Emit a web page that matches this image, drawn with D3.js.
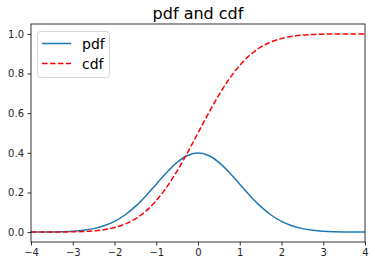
<!DOCTYPE html>
<html><head><meta charset="utf-8">
<script src="https://cdn.jsdelivr.net/npm/d3@7"></script>
<style>body{margin:0;background:#fff}svg{display:block;font-family:"DejaVu Sans",sans-serif}</style>
</head><body><svg id="c" width="375" height="266"></svg>
<script>
const xs = [-4,-3.75,-3.5,-3.25,-3,-2.75,-2.5,-2.25,-2,-1.75,-1.5,-1.25,-1,-0.75,-0.5,-0.25,0,0.25,0.5,0.75,1,1.25,1.5,1.75,2,2.25,2.5,2.75,3,3.25,3.5,3.75,4];
const pdfVals = [0.000134,0.000353,0.000873,0.00203,0.00443,0.00909,0.0175,0.0317,0.054,0.0863,0.1295,0.1826,0.242,0.3011,0.3521,0.3867,0.3989,0.3867,0.3521,0.3011,0.242,0.1826,0.1295,0.0863,0.054,0.0317,0.0175,0.00909,0.00443,0.00203,0.000873,0.000353,0.000134];
const cdfVals = [0.00003,0.00009,0.00023,0.00058,0.00135,0.00298,0.0062,0.0122,0.0228,0.0401,0.0668,0.1056,0.1587,0.2266,0.3085,0.4013,0.5,0.5987,0.6915,0.7734,0.8413,0.8944,0.9332,0.9599,0.9772,0.9878,0.9938,0.997,0.99865,0.99942,0.99977,0.99991,0.99997];
const xTicks = [-4,-3,-2,-1,0,1,2,3,4];
const yTicks = [0,0.2,0.4,0.6,0.8,1.0];
const seriesNames = ["pdf","cdf"];

const svg = d3.select("#c");
const L=31, R=365, T=24, B=242;
const x = d3.scaleLinear().domain([-4,4]).range([L,R]);
const y = d3.scaleLinear().domain([-0.05,1.05]).range([B,T]);

svg.append("text").attr("x",(L+R)/2).attr("y",19).attr("text-anchor","middle")
  .attr("font-size",16).attr("fill","#000").text("pdf and cdf");

const line = d3.line().x((d,i)=>x(xs[i])).y(d=>y(d)).curve(d3.curveCatmullRom);
const g = svg.append("g");
g.append("path").datum(pdfVals).attr("d",line).attr("fill","none").attr("stroke","#1f77b4").attr("stroke-width",1.5);
g.append("path").datum(cdfVals).attr("d",line).attr("fill","none").attr("stroke","#ff0000").attr("stroke-width",1.5).attr("stroke-dasharray","5.55,2.4");

const xa = svg.append("g").attr("transform",`translate(0,${B})`)
  .call(d3.axisBottom(x).tickValues(xTicks).tickSize(3.5).tickPadding(3.5).tickFormat(d=>d<0?"\u2212"+(-d):""+d));
const ya = svg.append("g").attr("transform",`translate(${L},0)`)
  .call(d3.axisLeft(y).tickValues(yTicks).tickSize(3.5).tickPadding(3.5).tickFormat(d3.format(".1f")));
[xa,ya].forEach(a=>{a.select(".domain").remove();a.selectAll("line").attr("stroke","#000").attr("stroke-width",0.8);
  a.selectAll("text").attr("font-size",10).attr("fill","#262626").attr("font-family","DejaVu Sans");});

svg.append("rect").attr("x",L).attr("y",T).attr("width",R-L).attr("height",B-T)
  .attr("fill","none").attr("stroke","#000").attr("stroke-width",0.8);

const lg = svg.append("g");
lg.append("rect").attr("x",37.5).attr("y",31.5).attr("width",72).attr("height",46).attr("rx",3)
  .attr("fill","#fff").attr("fill-opacity",0.8).attr("stroke","#cccccc").attr("stroke-width",0.8);
const colors=["#1f77b4","#ff0000"], dashes=[null,"5.55,2.4"];
seriesNames.forEach((n,i)=>{
  const yy = 43.5 + i*20;
  lg.append("line").attr("x1",42).attr("x2",71).attr("y1",yy).attr("y2",yy)
    .attr("stroke",colors[i]).attr("stroke-width",1.5).attr("stroke-dasharray",dashes[i]);
  lg.append("text").attr("x",82).attr("y",yy+5).attr("font-size",14).attr("fill","#000").text(n);
});
</script></body></html>
